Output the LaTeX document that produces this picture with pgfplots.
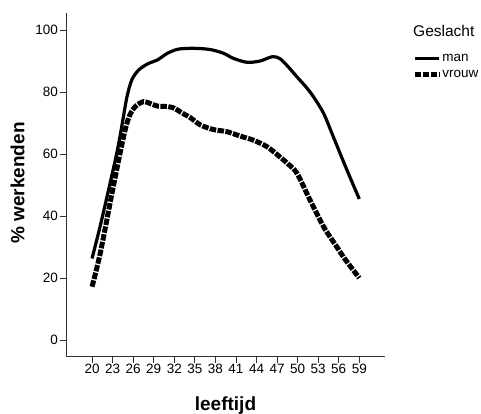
\documentclass[border=0pt]{standalone}
\usepackage{pgfplots}
\pgfplotsset{compat=1.18}
\usepackage{fontspec}
\setmainfont{Liberation Sans}
\begin{document}
\begin{tikzpicture}[x=1pt,y=1pt]
\useasboundingbox (0,0) rectangle (481,413);
\begin{axis}[
  scale only axis,
  width=319pt, height=344pt,
  at={(66pt,56.3pt)}, anchor=south west,
  xmin=16.2, xmax=62.75, ymin=-5.4, ymax=105.6,
  axis x line=bottom, axis y line=left,
  axis line style={-, line width=0.9pt, black!80},
  xtick={20,23,...,59}, ytick={0,20,...,100},
  tick align=outside, major tick length=6.5pt,
  tick style={line width=0.9pt, black!80},
  /pgf/number format/assume math mode=true,
  ticklabel style={font=\fontsize{13.5}{15}\selectfont},
  xticklabel style={inner sep=1pt},
  yticklabel style={inner sep=1.5pt},
  ylabel={\textbf{\% werkenden}},
  xlabel={\textbf{leeftijd}},
  label style={font=\fontsize{19}{21}\selectfont},
  ylabel style={at={(axis description cs:-0.152,0.505)}, anchor=center},
  xlabel style={at={(axis description cs:0.5,-0.156)}, anchor=base},
  legend style={at={(axis description cs:1.085,0.883)}, anchor=north west, draw=none, fill=none,
    font=\fontsize{13.5}{15}\selectfont, inner sep=0pt, row sep=5pt,
    nodes={inner sep=1pt}},
  legend cell align=left,
  legend image code/.code={\draw[#1] (0pt,0pt) -- (24pt,0pt);},
  clip=false,
]
\addplot[black, line width=3.2pt, smooth, tension=0.5] coordinates {
(20,26.3) (21.4,38.7) (23.6,60.2) (24.5,71) (25.1,78.5) (25.8,83.9) (26.8,87.1) (28.2,89.2)
(29.5,90.3) (31,92.5) (32.5,93.8) (34.3,94.1) (36,94) (37.5,93.6) (39.2,92.5) (40.6,90.9)
(42.6,89.6) (44.5,90) (46.3,91.4) (47.4,90.8) (48.6,88.2) (49.9,84.9) (51.2,81.7) (52.3,78.5)
(53.8,73.1) (55.2,65.6) (57.2,54.8) (59,45.5)
};
\addlegendentry{man}
\addplot[black, line width=5pt, dash pattern=on 6.5pt off 1.4pt, smooth, tension=0.5] coordinates {
(20,17.2) (21.2,28) (23.1,49.5) (24.6,65.6) (25.4,72) (26.3,75.3) (27.5,76.9) (28.5,76.3)
(29.5,75.5) (31,75.3) (32,74.8) (33,73.4) (34.3,71.8) (35.8,69.4) (37.7,67.9) (39.7,67.2)
(41.6,65.8) (43.5,64.5) (45.5,62.4) (47.4,59.1) (48.7,56.6) (49.9,53.8) (51.8,45.2)
(53.8,36.5) (55.7,30.1) (57,25.8) (59,20)
};
\addlegendentry{vrouw}
\end{axis}
\node[anchor=west, font=\fontsize{15.5}{17}\selectfont, inner sep=0pt] at (413,382) {Geslacht};
\end{tikzpicture}
\end{document}
